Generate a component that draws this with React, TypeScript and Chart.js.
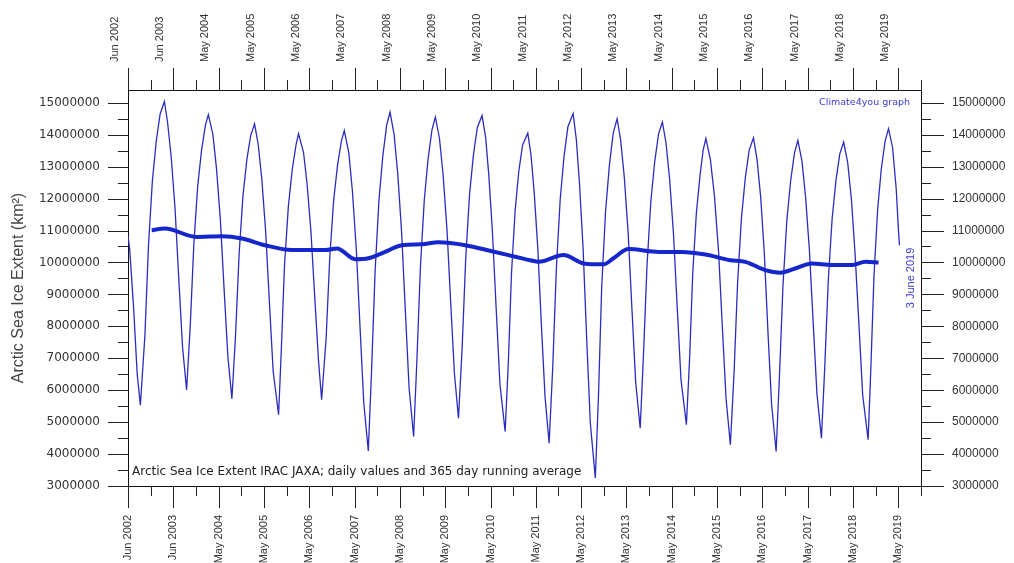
import React, { useEffect, useRef } from 'react';
import { Chart, registerables } from 'chart.js';

Chart.register(...registerables);

// ---- axis range (decimal years) and labels ----
const X_MIN = 2002.417;
const X_MAX = 2019.917;
const Y_MIN = 3;
const Y_MAX = 15.4;

const tickLabels = [
  'Jun 2002', 'Jun 2003', 'May 2004', 'May 2005', 'May 2006', 'May 2007',
  'May 2008', 'May 2009', 'May 2010', 'May 2011', 'May 2012', 'May 2013',
  'May 2014', 'May 2015', 'May 2016', 'May 2017', 'May 2018', 'May 2019',
];

const yTickValues = [
  3, 3.5, 4, 4.5, 5, 5.5, 6, 6.5, 7, 7.5, 8, 8.5, 9, 9.5, 10, 10.5, 11, 11.5,
  12, 12.5, 13, 13.5, 14, 14.5, 15,
];

// ---- daily extent (million km²) ----
const iceDates = [
  2002.417, 2002.455, 2002.54, 2002.62, 2002.69,
  2002.79, 2002.87, 2002.955, 2003.04, 2003.125, 2003.22,
  2003.29, 2003.37, 2003.455, 2003.54, 2003.62, 2003.71,
  2003.79, 2003.87, 2003.955, 2004.04, 2004.125, 2004.19,
  2004.29, 2004.37, 2004.455, 2004.54, 2004.62, 2004.71,
  2004.79, 2004.87, 2004.955, 2005.04, 2005.125, 2005.21,
  2005.29, 2005.37, 2005.455, 2005.54, 2005.62, 2005.74,
  2005.80, 2005.87, 2005.955, 2006.04, 2006.125, 2006.18,
  2006.29, 2006.37, 2006.455, 2006.54, 2006.62, 2006.69,
  2006.79, 2006.87, 2006.955, 2007.04, 2007.125, 2007.19,
  2007.29, 2007.37, 2007.455, 2007.54, 2007.62, 2007.72,
  2007.79, 2007.87, 2007.955, 2008.04, 2008.125, 2008.20,
  2008.29, 2008.37, 2008.455, 2008.54, 2008.62, 2008.72,
  2008.79, 2008.87, 2008.955, 2009.04, 2009.125, 2009.20,
  2009.29, 2009.37, 2009.455, 2009.54, 2009.62, 2009.71,
  2009.79, 2009.87, 2009.955, 2010.04, 2010.125, 2010.23,
  2010.31, 2010.38, 2010.46, 2010.545, 2010.625, 2010.74,
  2010.81, 2010.88, 2010.96, 2011.04, 2011.125, 2011.24,
  2011.31, 2011.38, 2011.46, 2011.54, 2011.62, 2011.71,
  2011.79, 2011.87, 2011.955, 2012.04, 2012.125, 2012.24,
  2012.31, 2012.38, 2012.46, 2012.54, 2012.62, 2012.73,
  2012.80, 2012.87, 2012.955, 2013.04, 2013.125, 2013.21,
  2013.29, 2013.37, 2013.455, 2013.54, 2013.62, 2013.72,
  2013.79, 2013.87, 2013.955, 2014.04, 2014.125, 2014.21,
  2014.29, 2014.37, 2014.455, 2014.54, 2014.62, 2014.74,
  2014.81, 2014.88, 2014.96, 2015.04, 2015.11, 2015.17,
  2015.27, 2015.36, 2015.45, 2015.535, 2015.615, 2015.71,
  2015.79, 2015.87, 2015.955, 2016.04, 2016.125, 2016.22,
  2016.30, 2016.38, 2016.46, 2016.54, 2016.62, 2016.72,
  2016.79, 2016.87, 2016.955, 2017.04, 2017.125, 2017.20,
  2017.29, 2017.37, 2017.455, 2017.54, 2017.62, 2017.72,
  2017.79, 2017.87, 2017.955, 2018.04, 2018.125, 2018.21,
  2018.30, 2018.38, 2018.46, 2018.55, 2018.63, 2018.75,
  2018.81, 2018.88, 2018.96, 2019.04, 2019.125, 2019.20,
  2019.29, 2019.37, 2019.42, 2019.44,
];

const iceExtent = [
  10.84, 10.4, 8.6, 6.5, 5.53,
  7.71, 10.56, 12.55, 13.79, 14.64, 15.04,
  14.39, 13.31, 11.69, 9.43, 7.36, 6.01,
  7.99, 10.58, 12.39, 13.51, 14.29, 14.63,
  14.01, 12.94, 11.34, 9.11, 7.07, 5.73,
  7.71, 10.29, 12.10, 13.22, 13.98, 14.34,
  13.70, 12.61, 10.97, 8.69, 6.60, 5.23,
  7.25, 9.89, 11.74, 12.89, 13.68, 14.03,
  13.45, 12.45, 10.95, 8.87, 6.95, 5.70,
  7.64, 10.17, 11.94, 13.03, 13.79, 14.13,
  13.43, 12.22, 10.42, 7.91, 5.60, 4.10,
  6.54, 9.72, 11.95, 13.33, 14.29, 14.71,
  14.00, 12.78, 10.95, 8.41, 6.07, 4.55,
  6.85, 9.85, 11.95, 13.25, 14.15, 14.55,
  13.89, 12.76, 11.06, 8.70, 6.53, 5.12,
  7.30, 10.14, 12.14, 13.37, 14.22, 14.60,
  13.91, 12.72, 10.94, 8.47, 6.19, 4.71,
  6.86, 9.66, 11.62, 12.84, 13.68, 14.05,
  13.37, 12.21, 10.46, 8.03, 5.80, 4.34,
  6.71, 9.81, 11.98, 13.32, 14.25, 14.66,
  13.86, 12.49, 10.44, 7.59, 4.96, 3.25,
  5.84, 9.21, 11.58, 13.04, 14.05, 14.50,
  13.82, 12.66, 10.91, 8.49, 6.26, 4.81,
  7.02, 9.89, 11.91, 13.15, 14.02, 14.40,
  13.74, 12.60, 10.89, 8.52, 6.34, 4.92,
  6.98, 9.67, 11.55, 12.72, 13.52, 13.88,
  13.21, 12.06, 10.33, 7.93, 5.73, 4.29,
  6.50, 9.38, 11.40, 12.65, 13.52, 13.90,
  13.21, 12.03, 10.27, 7.81, 5.55, 4.08,
  6.32, 9.24, 11.29, 12.55, 13.43, 13.82,
  13.17, 12.05, 10.37, 8.04, 5.90, 4.50,
  6.63, 9.41, 11.36, 12.56, 13.40, 13.77,
  13.12, 12.00, 10.32, 7.99, 5.85, 4.45,
  6.69, 9.61, 11.66, 12.92, 13.80, 14.19,
  13.6, 12.3, 11.0, 10.54,
];

// ---- 365 day running average (million km²) ----
const avgDates = [
  2002.94, 2003.23, 2003.93, 2004.49, 2004.93, 2005.44, 2006.03, 2006.77,
  2007.03, 2007.43, 2007.72, 2008.09, 2008.46, 2008.90, 2009.27, 2009.86,
  2010.45, 2010.96, 2011.29, 2011.48, 2012.03, 2012.47, 2012.91, 2013.13,
  2013.46, 2014.13, 2014.64, 2015.16, 2015.71, 2016.04, 2016.48, 2016.81,
  2017.14, 2017.51, 2017.95, 2018.40, 2018.69, 2018.98,
];
const avgExtent = [
  11.01, 11.06, 10.80, 10.82, 10.75, 10.54, 10.39, 10.39,
  10.44, 10.10, 10.13, 10.33, 10.54, 10.57, 10.63, 10.54,
  10.35, 10.18, 10.07, 10.02, 10.23, 9.97, 9.94, 10.13,
  10.42, 10.33, 10.33, 10.25, 10.07, 10.02, 9.76, 9.68,
  9.81, 9.97, 9.92, 9.92, 10.02, 10.00,
];

const yAxisTitle = 'Arctic Sea Ice Extent (km²)';
const noteText = 'Arctic Sea Ice Extent IRAC JAXA; daily values and 365 day running average';
const creditText = 'Climate4you graph';
const dateText = '3 June 2019';

const LINE_BLUE = '#2c2cbc';
const AVG_BLUE = '#1426cc';
const TEXT_BLUE = '#3c3cd2';

const isMajorY = (v: number) => Math.abs(v - Math.round(v)) < 1e-6;

const xTicks = (() => {
  const out: number[] = [];
  for (let i = 0; i < tickLabels.length * 2; i++) out.push(X_MIN + i * 0.5);
  return out;
})();

const decorPlugin = {
  id: 'decor',
  afterDraw(chart: any) {
    const ctx = chart.ctx as CanvasRenderingContext2D;
    const { left, right, top, bottom } = chart.chartArea;
    ctx.save();
    ctx.strokeStyle = '#222';
    ctx.lineWidth = 1;
    const line = (x1: number, y1: number, x2: number, y2: number) => {
      ctx.beginPath();
      ctx.moveTo(x1, y1);
      ctx.lineTo(x2, y2);
      ctx.stroke();
    };
    const xs = chart.scales.x;
    xs.ticks.forEach((t: any, i: number) => {
      const px = Math.round(xs.getPixelForValue(t.value)) + 0.5;
      const len = i % 2 === 0 ? 22 : 10;
      line(px, bottom, px, bottom + len);
      line(px, top, px, top - len);
    });
    const ys = chart.scales.y;
    ys.ticks.forEach((t: any) => {
      const py = Math.round(ys.getPixelForValue(t.value)) + 0.5;
      const major = isMajorY(t.value);
      line(left - (major ? 20 : 10), py, left, py);
      line(right, py, right + (major ? 23 : 10), py);
    });

    // annotations
    ctx.fillStyle = '#222';
    ctx.font = '12px "DejaVu Sans"';
    ctx.textAlign = 'left';
    ctx.textBaseline = 'middle';
    ctx.fillText(noteText, left + 4, bottom - 14);

    ctx.fillStyle = TEXT_BLUE;
    ctx.font = '9.5px "DejaVu Sans"';
    ctx.textAlign = 'right';
    ctx.fillText(creditText, right - 11, top + 13);

    ctx.save();
    ctx.translate(right - 10, 278);
    ctx.rotate(-Math.PI / 2);
    ctx.font = '11px "Liberation Sans"';
    ctx.textAlign = 'center';
    ctx.textBaseline = 'middle';
    ctx.fillText(dateText, 0, 0);
    ctx.restore();

    ctx.restore();
  },
};

export default function App() {
  const ref = useRef<HTMLCanvasElement | null>(null);

  useEffect(() => {
    document.body.style.margin = '0';
    document.body.style.overflow = 'hidden';
    if (!ref.current) return;

    const xAxis = (position: 'top' | 'bottom', size: number, padding: number) => ({
      type: 'linear' as const,
      position,
      min: X_MIN,
      max: X_MAX,
      afterBuildTicks: (scale: any) => {
        scale.ticks = xTicks.map((v) => ({ value: v }));
      },
      afterFit: (scale: any) => {
        scale.height = size;
      },
      grid: { display: false, drawTicks: false, drawOnChartArea: false },
      border: { display: true, color: '#111', width: 1 },
      ticks: {
        autoSkip: false,
        minRotation: 90,
        maxRotation: 90,
        padding,
        color: '#333',
        font: { family: '"Liberation Sans", Arial', size: 11 },
        callback: (_v: any, i: number) => (i % 2 === 0 ? tickLabels[i / 2] : ''),
      },
    });

    const yAxis = (position: 'left' | 'right', size: number, padding: number, font: any, withTitle: boolean) => ({
      type: 'linear' as const,
      position,
      min: Y_MIN,
      max: Y_MAX,
      afterBuildTicks: (scale: any) => {
        scale.ticks = yTickValues.map((v) => ({ value: v }));
      },
      afterFit: (scale: any) => {
        scale.width = size;
      },
      grid: { display: false, drawTicks: false, drawOnChartArea: false },
      border: { display: true, color: '#111', width: 1 },
      title: withTitle
        ? {
            display: true,
            text: yAxisTitle,
            color: '#444',
            font: { family: '"Liberation Sans", Arial', size: 16 },
            padding: { top: 9, bottom: 0 },
          }
        : { display: false },
      ticks: {
        autoSkip: false,
        padding,
        color: '#333',
        font,
        callback: (v: any) => (isMajorY(Number(v)) ? String(Math.round(Number(v) * 1000000)) : ''),
      },
    });

    const chart = new Chart(ref.current, {
      type: 'line',
      data: {
        datasets: [
          {
            label: '365 day running average',
            data: avgDates.map((d, i) => ({ x: d, y: avgExtent[i] })),
            borderColor: AVG_BLUE,
            borderWidth: 4,
            pointRadius: 0,
            cubicInterpolationMode: 'monotone',
            fill: false,
          },
          {
            label: 'Daily values',
            data: iceDates.map((d, i) => ({ x: d, y: iceExtent[i] })),
            borderColor: LINE_BLUE,
            borderWidth: 1.3,
            pointRadius: 0,
            tension: 0,
            fill: false,
          },
        ],
      },
      options: {
        animation: false,
        responsive: false,
        devicePixelRatio: 1,
        layout: { padding: 0 },
        parsing: false,
        normalized: true,
        plugins: {
          legend: { display: false },
          tooltip: { enabled: false },
        },
        scales: {
          x: xAxis('bottom', 77, 29),
          x2: xAxis('top', 90, 28),
          y: yAxis('left', 128, 28, { family: '"DejaVu Sans"', size: 12 }, true),
          y2: yAxis('right', 93, 31, { family: '"Liberation Sans", Arial', size: 12 }, false),
        },
      } as any,
      plugins: [decorPlugin],
    });

    return () => chart.destroy();
  }, []);

  return (
    <div style={{ width: 1014, height: 563, background: '#fff' }}>
      <canvas ref={ref} width={1014} height={563} style={{ display: 'block' }} />
    </div>
  );
}
